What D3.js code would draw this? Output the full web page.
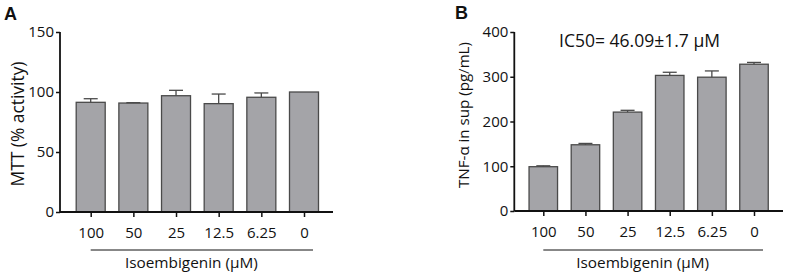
<!DOCTYPE html>
<html>
<head>
<meta charset="utf-8">
<script src="https://cdn.jsdelivr.net/npm/d3@7"></script>
<style>
  body { margin: 0; background: #fff; }
  svg text { font-family: "Open Sans", sans-serif; fill: #111; }
</style>
</head>
<body>
<div id="chart"></div>
<script>
const doses = ["100", "50", "25", "12.5", "6.25", "0"];
const mttMean = [91.4, 90.8, 96.9, 90.3, 95.6, 100];
const mttErr  = [3.0, 0.3, 4.5, 8.0, 3.6, 0];
const tnfMean = [99, 148, 221, 303, 299, 328];
const tnfErr  = [2, 3, 4, 7, 14, 4];
const mttTicks = [0, 50, 100, 150];
const tnfTicks = [0, 100, 200, 300, 400];

const svg = d3.select("#chart")
  .append("svg")
  .attr("width", 787)
  .attr("height", 276);

const barFill = "#a4a4a8";
const barStroke = "#4a4a4a";

// scale a text's font size so that it spans the wanted width
function fitText(sel, base, want) {
  sel.attr("font-size", base);
  const len = sel.node().getComputedTextLength();
  if (len > 0) sel.attr("font-size", base * want / len);
}

function panel(cfg) {
  const g = svg.append("g");

  const x = d3.scalePoint()
      .domain(doses)
      .range([cfg.x0, cfg.x1]);

  const y = d3.scaleLinear()
      .domain([0, cfg.max])
      .range([cfg.yBottom, 32]);

  // bars
  g.selectAll("rect.bar")
    .data(cfg.mean)
    .join("rect")
      .attr("class", "bar")
      .attr("x", (d, i) => x(doses[i]) - cfg.bw / 2)
      .attr("y", d => y(d))
      .attr("width", cfg.bw)
      .attr("height", d => y(0) - y(d))
      .attr("fill", barFill)
      .attr("stroke", barStroke)
      .attr("stroke-width", 1.3);

  // error bars (upper only)
  const eb = g.selectAll("g.err")
    .data(cfg.mean.map((m, i) => ({ m, e: cfg.err[i], k: doses[i] })).filter(d => d.e > 0))
    .join("g")
      .attr("class", "err");
  eb.append("line")
      .attr("x1", d => x(d.k)).attr("x2", d => x(d.k))
      .attr("y1", d => y(d.m)).attr("y2", d => y(d.m + d.e))
      .attr("stroke", barStroke).attr("stroke-width", 1.3);
  eb.append("line")
      .attr("x1", d => x(d.k) - 7).attr("x2", d => x(d.k) + 7)
      .attr("y1", d => y(d.m + d.e)).attr("y2", d => y(d.m + d.e))
      .attr("stroke", barStroke).attr("stroke-width", 1.3);

  // y axis
  const yAxis = g.append("g")
      .attr("transform", `translate(${cfg.axisX},0)`)
      .call(d3.axisLeft(y).tickValues(cfg.ticks).tickSize(4).tickPadding(2));
  yAxis.select(".domain").attr("stroke", "#111").attr("stroke-width", 1.8)
      .attr("d", `M0,${y(cfg.max)}V${y(0)}`);
  yAxis.selectAll(".tick line").attr("stroke", "#111").attr("stroke-width", 1.5);
  yAxis.selectAll(".tick text").attr("font-size", 15).attr("font-family", "Open Sans, sans-serif");

  // x axis
  const xAxis = g.append("g")
      .attr("transform", `translate(0,${cfg.yBottom})`)
      .call(d3.axisBottom(x).tickSize(5).tickPadding(10.5));
  xAxis.select(".domain").attr("stroke", "#111").attr("stroke-width", 1.8)
      .attr("d", `M${cfg.axisX},0H${cfg.axisEnd}`);
  xAxis.selectAll(".tick line").attr("stroke", "#111").attr("stroke-width", 1.5);
  xAxis.selectAll(".tick text").attr("font-size", 15).attr("font-family", "Open Sans, sans-serif");

  // underline + x title
  g.append("line")
      .attr("x1", x(doses[0])).attr("x2", x(doses[doses.length - 1]) + 9)
      .attr("y1", 250).attr("y2", 250)
      .attr("stroke", "#111").attr("stroke-width", 1);
  g.append("text")
      .attr("x", (x(doses[0]) + x(doses[doses.length - 1])) / 2 - 6)
      .attr("y", 268)
      .attr("text-anchor", "middle")
      .text("Isoembigenin (\u03bcM)")
      .call(fitText, 16, 133);

  // y title
  g.append("text")
      .attr("transform", `translate(${cfg.titleX},${cfg.titleY}) rotate(-90)`)
      .attr("text-anchor", "middle")
      .text(cfg.yTitle)
      .call(fitText, 15, cfg.titleW);

  // panel letter
  g.append("text")
      .attr("x", cfg.letterX).attr("y", cfg.letterY)
      .attr("font-weight", "bold")
      .attr("font-size", 18)
      .style("font-family", "Liberation Sans, Arial, sans-serif")
      .text(cfg.letter);

  return { x, y, g };
}

panel({
  letter: "A", letterX: 4, letterY: 20,
  mean: mttMean, err: mttErr, ticks: mttTicks, max: 150,
  x0: 90.7, x1: 304, bw: 29, axisX: 60, axisEnd: 333, yBottom: 212,
  titleX: 24, titleY: 124, titleW: 125, yTitle: "MTT (% activity)"
});

const pB = panel({
  letter: "B", letterX: 455, letterY: 19,
  mean: tnfMean, err: tnfErr, ticks: tnfTicks, max: 400,
  x0: 543.3, x1: 754, bw: 28.5, axisX: 514.3, axisEnd: 783, yBottom: 211,
  titleX: 469, titleY: 115, titleW: 146, yTitle: "TNF-\u03b1 in sup (pg/mL)"
});

pB.g.append("text")
    .attr("x", 559).attr("y", 47)
    .text("IC50= 46.09\u00b11.7 \u03bcM")
    .call(fitText, 16, 161);
</script>
</body>
</html>
